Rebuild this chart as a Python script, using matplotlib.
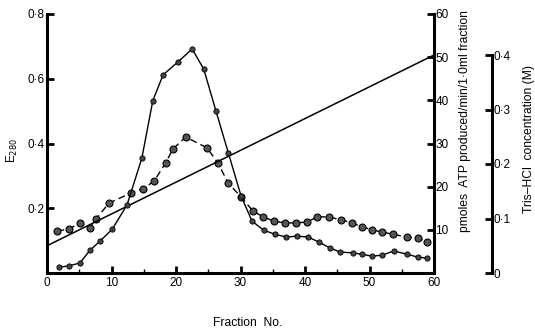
import matplotlib
matplotlib.use("Agg")
import matplotlib.pyplot as plt
from matplotlib.ticker import MultipleLocator, FixedLocator, FixedFormatter

plt.rcParams['font.family'] = ['Liberation Sans', 'DejaVu Sans']

# E280 (solid line, small dots)
e280_frac = [1.9, 3.4, 5.1, 6.7, 8.2, 10.1, 12.4, 14.7, 16.4, 18.0, 20.3, 22.5, 24.3,
             26.2, 28.1, 30.1, 31.8, 33.6, 35.3, 37.1, 38.8, 40.5, 42.2, 43.9, 45.4,
             47.4, 48.8, 50.4, 51.9, 53.8, 55.8, 57.5, 58.9]
e280_vals = [0.018, 0.022, 0.031, 0.071, 0.098, 0.135, 0.21, 0.354, 0.532, 0.612, 0.652,
             0.692, 0.63, 0.50, 0.372, 0.237, 0.16, 0.132, 0.12, 0.111, 0.114, 0.111,
             0.095, 0.077, 0.065, 0.062, 0.058, 0.052, 0.055, 0.068, 0.058, 0.049, 0.046]

# ATP activity (dashed line, large dots)
atp_frac = [1.6, 3.4, 5.1, 6.7, 7.6, 9.6, 13.0, 14.9, 16.6, 18.4, 19.5, 21.5, 24.8,
            26.5, 28.1, 30.1, 31.9, 33.5, 35.2, 36.9, 38.6, 40.3, 41.9, 43.7, 45.6,
            47.3, 48.8, 50.4, 51.9, 53.6, 55.8, 57.5, 58.9]
atp_vals = [9.7, 10.2, 11.6, 10.4, 12.5, 16.2, 18.5, 19.5, 21.3, 25.5, 28.7, 31.5, 29.0,
            25.5, 20.8, 17.6, 14.4, 13.0, 12.0, 11.6, 11.6, 11.8, 13.0, 13.0, 12.3,
            11.6, 10.7, 10.0, 9.5, 9.0, 8.3, 8.1, 7.2]

# Tris-HCl gradient
tris_frac = [0, 60]
tris_conc = [0.05, 0.40]

x_ticks = [0, 10, 20, 30, 40, 50, 60]
e_ticks = [0.2, 0.4, 0.6, 0.8]
e_labels = ['0·2', '0·4', '0·6', '0·8']
atp_ticks = [10, 20, 30, 40, 50, 60]
tris_ticks = [0, 0.1, 0.2, 0.3, 0.4]
tris_labels = ['0', '0·1', '0·2', '0·3', '0·4']

W, H = 535, 333
fig = plt.figure(figsize=(W / 100, H / 100), dpi=100)
L, R, B, T = 47, 434, 273, 14
ax = fig.add_axes([L / W, 1 - B / H, (R - L) / W, (B - T) / H])
ax2 = ax.twinx()
ax3 = ax.twinx()

spw = 2.2
tick_fs = 8.5

# main axis
ax.set_xlim(0, 60)
ax.set_ylim(0, 0.8)
ax.spines['top'].set_visible(False)
ax.spines['right'].set_visible(False)
ax.spines['left'].set_linewidth(spw)
ax.spines['bottom'].set_linewidth(spw)
ax.xaxis.set_major_locator(FixedLocator(x_ticks))
ax.xaxis.set_minor_locator(MultipleLocator(5))
ax.yaxis.set_major_locator(FixedLocator(e_ticks))
ax.yaxis.set_major_formatter(FixedFormatter(e_labels))
ax.tick_params(axis='x', which='major', direction='in', length=5, width=2, labelsize=tick_fs, pad=3)
ax.tick_params(axis='x', which='minor', direction='in', length=3, width=1)
ax.tick_params(axis='y', which='major', direction='in', length=5, width=2, labelsize=tick_fs, pad=2)

# ATP axis
ax2.set_ylim(0, 60)
for s in ['top', 'left', 'bottom']:
    ax2.spines[s].set_visible(False)
ax2.spines['right'].set_linewidth(spw)
ax2.yaxis.set_major_locator(FixedLocator(atp_ticks))
ax2.tick_params(axis='y', direction='in', length=5, width=2, labelsize=tick_fs, pad=1)

# Tris axis
ax3.set_ylim(0, 0.4 * (B - T) / (275 - 57))
for s in ['top', 'left', 'bottom']:
    ax3.spines[s].set_visible(False)
ax3.spines['right'].set_position(('outward', (492 - R) * 0.72))
ax3.spines['right'].set_bounds(0, 0.4)
ax3.spines['right'].set_linewidth(spw)
ax3.yaxis.set_major_locator(FixedLocator(tris_ticks))
ax3.yaxis.set_major_formatter(FixedFormatter(tris_labels))
ax3.tick_params(axis='y', direction='in', length=5, width=2, labelsize=tick_fs, pad=1)

# data
ax3.plot(tris_frac, tris_conc, color='black', lw=1.1, zorder=1)
ax2.plot(atp_frac, atp_vals, color='black', lw=1.0, ls=(0, (5, 3)),
         marker='o', ms=5, mfc='#555555', mec='black', mew=0.8, zorder=2)
ax.set_zorder(ax3.get_zorder() + 1)
ax.patch.set_visible(False)
ax.plot(e280_frac, e280_vals, color='black', lw=1.0,
        marker='o', ms=3.8, mfc='#444444', mec='black', mew=0.6, zorder=3)

# labels
lab_fs = 8.7
fig.text(12 / W, 1 - 150 / H, r'E$_{280}$', rotation=90, ha='center', va='center', fontsize=8.5)
fig.text(465 / W, 1 - 121 / H, 'pmoles  ATP produced/min/1·0ml fraction', rotation=90,
         ha='center', va='center', fontsize=lab_fs)
fig.text(529 / W, 1 - 139 / H, 'Tris–HCl  concentration (M)', rotation=90,
         ha='center', va='center', fontsize=lab_fs)
fig.text(248 / W, 1 - 323 / H, 'Fraction  No.', ha='center', va='center', fontsize=lab_fs)

fig.savefig('out.png', dpi=100)
